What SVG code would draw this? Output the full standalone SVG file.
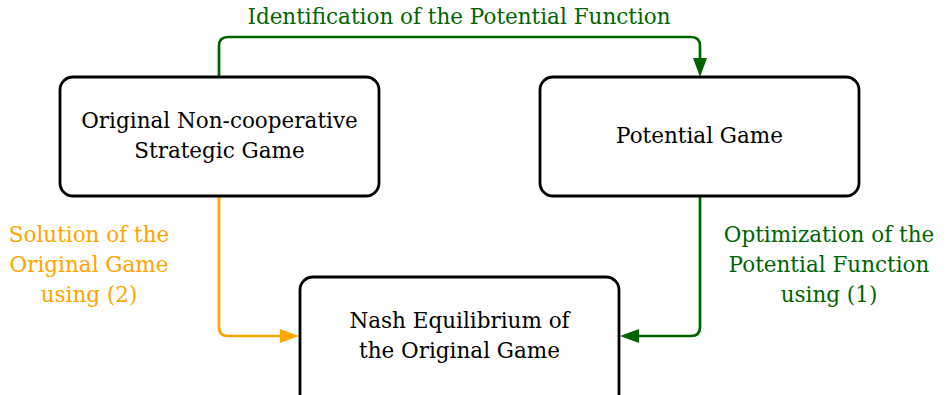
<svg xmlns="http://www.w3.org/2000/svg" width="946" height="395" viewBox="0 0 946 395">
<style>
.box{fill:#fff;stroke:#000;stroke-width:2.8}
text{font-family:'DejaVu Serif',serif;font-size:21.5px;text-anchor:middle}
.g{fill:#006400}
.o{fill:#FFA500}
.cg{fill:none;stroke:#006400;stroke-width:2.7}
.co{fill:none;stroke:#FFA500;stroke-width:2.7}
</style>
<g id="connectors">
<path class="cg" d="M219,77 V46 Q219,37 228,37 H691 Q700,37 700,46 V62"/>
<path class="g" d="M693,58 L707,58 L700,77 Z"/>
<path class="co" d="M219,196 V327 Q219,336 228,336 H284"/>
<path class="o" d="M280,329 L280,343 L299,336 Z"/>
<path class="cg" d="M700,196 V327 Q700,336 691,336 H636"/>
<path class="g" d="M639,329 L639,343 L620,336 Z"/>
<text class="g" x="459" y="24">Identification of the Potential Function</text>
<text class="o" x="89" y="242">Solution of the</text>
<text class="o" x="89" y="272">Original Game</text>
<text class="o" x="89" y="302">using (2)</text>
<text class="g" x="829" y="242">Optimization of the</text>
<text class="g" x="829" y="272">Potential Function</text>
<text class="g" x="829" y="302">using (1)</text>
</g>
<g id="original">
<rect class="box" x="60" y="77" width="319" height="119" rx="13"/>
<text x="219.5" y="128">Original Non-cooperative</text>
<text x="219.5" y="158">Strategic Game</text>
</g>
<g id="potential">
<rect class="box" x="540" y="77" width="319" height="119" rx="13"/>
<text x="699.5" y="143">Potential Game</text>
</g>
<g id="nash">
<rect class="box" x="300" y="277" width="319" height="130" rx="13"/>
<text x="459.5" y="328">Nash Equilibrium of</text>
<text x="459.5" y="358">the Original Game</text>
</g>
</svg>
